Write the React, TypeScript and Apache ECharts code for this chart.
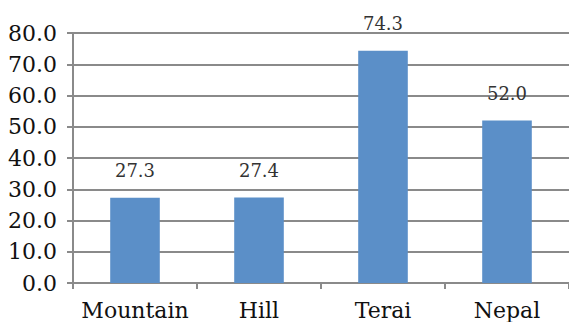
import React, { useEffect, useRef } from "react";
import * as echarts from "echarts";

const categories = ["Mountain", "Hill", "Terai", "Nepal"];
const values = [27.3, 27.4, 74.3, 52.0];
const yMin = 0;
const yMax = 80;
const yInterval = 10;

export default function App() {
  const ref = useRef<HTMLDivElement>(null);
  useEffect(() => {
    document.body.style.margin = "0";
    const chart = echarts.init(ref.current!, null, { renderer: "svg" });
    chart.setOption({
      animation: false,
      backgroundColor: "#ffffff",
      grid: { left: 73, right: -3, top: 33, bottom: 39, containLabel: false },
      xAxis: {
        type: "category",
        data: categories,
        axisLine: { show: true, lineStyle: { color: "#8a8a8a", width: 2 } },
        axisTick: { show: true, length: 6, inside: false, lineStyle: { color: "#8a8a8a", width: 2 } },
        axisLabel: {
          interval: 0,
          color: "#111111",
          fontFamily: "DejaVu Serif",
          fontSize: 22,
          margin: 16,
        },
      },
      yAxis: {
        type: "value",
        min: yMin,
        max: yMax,
        interval: yInterval,
        axisLine: { show: true, lineStyle: { color: "#8a8a8a", width: 2 } },
        axisTick: { show: true, length: 6, lineStyle: { color: "#8a8a8a", width: 2 } },
        splitLine: { show: true, lineStyle: { color: "#8a8a8a", width: 2 } },
        axisLabel: {
          color: "#111111",
          fontFamily: "DejaVu Serif",
          fontSize: 22,
          margin: 16,
          formatter: (v: number) => v.toFixed(1),
        },
      },
      series: [
        {
          type: "bar",
          data: values,
          barWidth: "40%",
          itemStyle: { color: "#5b8fc8" },
          label: {
            show: true,
            position: "top",
            distance: 18,
            color: "#333333",
            fontFamily: "DejaVu Serif",
            fontSize: 18,
            formatter: (p: any) => Number(p.value).toFixed(1),
          },
        },
      ],
    });
    return () => chart.dispose();
  }, []);
  return <div ref={ref} style={{ width: 569, height: 322 }} />;
}
